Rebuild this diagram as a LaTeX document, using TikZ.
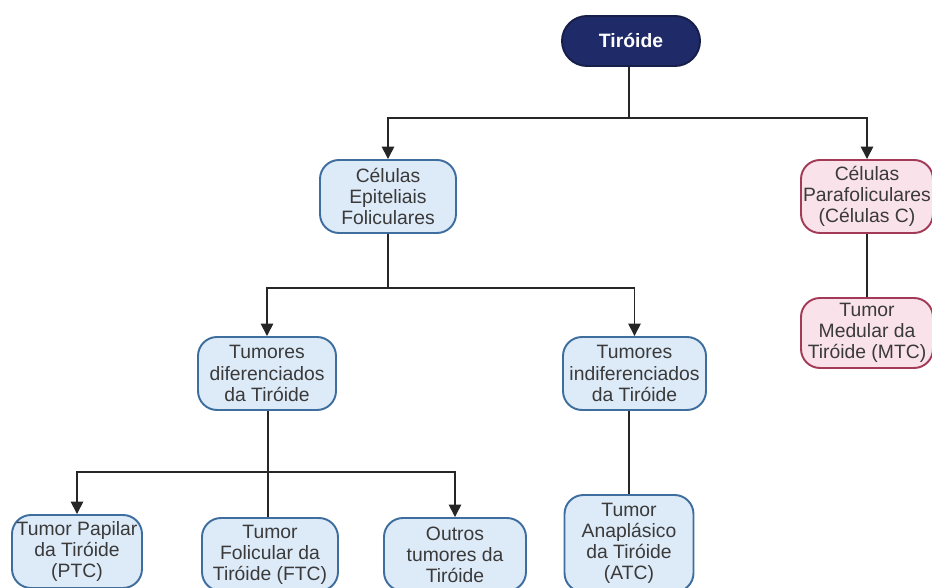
\documentclass[tikz,border=0pt]{standalone}
\usepackage{fontspec}
\setmainfont{Liberation Sans}
\usetikzlibrary{arrows.meta}
\definecolor{navy}{HTML}{1F2B68}
\definecolor{bluefill}{HTML}{DDEAF8}
\definecolor{blueline}{HTML}{3E6E9E}
\definecolor{pinkfill}{HTML}{F9E2E9}
\definecolor{pinkline}{HTML}{A33A57}
\definecolor{txtgray}{HTML}{3A3A3A}
\tikzset{
  box/.style={draw, line width=1.1pt, rounded corners=0.38cm, align=center,
    minimum height=1.46cm, inner sep=1pt, text=txtgray,
    font=\fontsize{11}{12}\selectfont},
  bluebox/.style={box, fill=bluefill, draw=blueline},
  pinkbox/.style={box, fill=pinkfill, draw=pinkline},
  topbox/.style={box, fill=navy, draw=navy!70!black, text=white,
    font=\fontsize{11}{12}\selectfont\bfseries, minimum height=1cm, rounded corners=0.5cm},
  link/.style={line width=0.9pt, black!85},
  arrow/.style={link, -{Triangle[length=7pt,width=7pt]}}
}
\begin{document}
\begin{tikzpicture}
\clip (0,0) rectangle (18.64,-11.76);
% top level
\node[topbox, minimum width=2.76cm] (tir) at (12.62,-0.82) {Tiróide};
\node[bluebox, minimum width=2.72cm] (cef) at (7.76,-3.93) {Células\\Epiteliais\\Foliculares};
\node[pinkbox, minimum width=2.64cm] (cpf) at (17.34,-3.93) {Células\\Parafoliculares\\(Células C)};
% tumour groups
\node[bluebox, minimum width=2.76cm] (tdif) at (5.34,-7.47) {Tumores\\diferenciados\\da Tiróide};
\node[bluebox, minimum width=2.86cm] (tind) at (12.69,-7.47) {Tumores\\indiferenciados\\da Tiróide};
\node[pinkbox, minimum width=2.64cm, minimum height=1.40cm] (mtc) at (17.34,-6.66) {Tumor\\Medular da\\Tiróide (MTC)};
% tumour types
\node[bluebox, minimum width=2.6cm] (ptc) at (1.54,-11.03) {Tumor Papilar\\da Tiróide\\(PTC)};
\node[bluebox, minimum width=2.72cm] (ftc) at (5.40,-11.09) {Tumor\\Folicular da\\Tiróide (FTC)};
\node[bluebox, minimum width=2.84cm] (out) at (9.10,-11.09) {Outros\\tumores da\\Tiróide};
\node[bluebox, minimum width=2.58cm, minimum height=1.94cm] (atc) at (12.58,-10.87) {Tumor\\Anaplásico\\da Tiróide\\(ATC)};
% split points
\coordinate (s1) at (12.58,-2.36);
\coordinate (s2) at (7.76,-5.76);
\coordinate (s3) at (5.36,-9.44);
% connectors
\draw[link] (tir.south -| s1) -- (s1);
\draw[arrow] (s1) -| (cef.north);
\draw[arrow] (s1) -| (cpf.north);
\draw[link] (cef) -- (s2);
\draw[arrow] (s2) -| (tdif.north);
\draw[arrow] (s2) -| (tind.north);
\draw[link] (cpf) -- (mtc);
\draw[link] (tdif.south -| s3) -- (s3);
\draw[arrow] (s3) -| (ptc.north);
\draw[arrow] (s3) -| (out.north);
\draw[link] (s3) -- (s3 |- ftc.north);
\draw[link] (tind.south -| atc) -- (atc.north);
\end{tikzpicture}
\end{document}
